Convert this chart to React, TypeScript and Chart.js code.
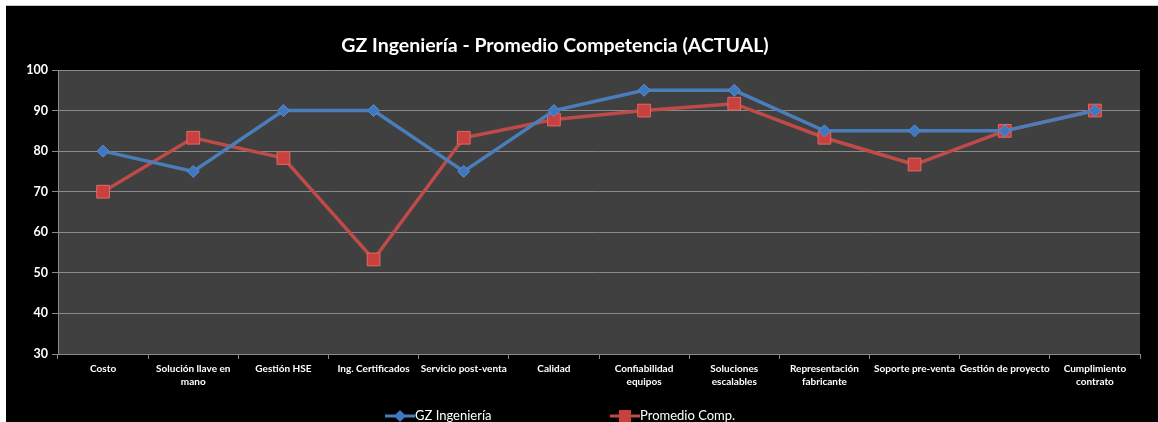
import React, { useEffect, useRef } from "react";
import { Chart, registerables } from "chart.js";

Chart.register(...registerables);

const categories: string[] = [
  "Costo",
  "Solución llave en\nmano",
  "Gestión HSE",
  "Ing. Certificados",
  "Servicio post-venta",
  "Calidad",
  "Confiabilidad\nequipos",
  "Soluciones\nescalables",
  "Representación\nfabricante",
  "Soporte pre-venta",
  "Gestión de proyecto",
  "Cumplimiento\ncontrato",
];
const gzIngenieria: number[] = [80, 75, 90, 90, 75, 90, 95, 95, 85, 85, 85, 90];
const promedioComp: number[] = [70, 83.3, 78.3, 53.3, 83.3, 87.8, 90, 91.7, 83.3, 76.7, 85, 90];
const seriesNames: string[] = ["GZ Ingeniería", "Promedio Comp."];
const titleText = "GZ Ingeniería - Promedio Competencia (ACTUAL)";
const yMin = 30;
const yMax = 100;
const yStep = 10;

const BLUE = "#4a7ebb";
const RED = "#be4b48";
const FONT = "Lato, 'Open Sans', sans-serif";

const plotBg = {
  id: "plotBg",
  beforeDraw(chart: any) {
    const { ctx, chartArea } = chart;
    ctx.save();
    ctx.fillStyle = "#404040";
    ctx.fillRect(chartArea.left, chartArea.top, chartArea.right - chartArea.left, chartArea.bottom - chartArea.top);
    ctx.restore();
  },
};

const customTitle = {
  id: "customTitle",
  afterDraw(chart: any, _args: any, opts: any) {
    const { ctx } = chart;
    ctx.save();
    ctx.font = `bold 19.5px ${FONT}`;
    ctx.fillStyle = "#ffffff";
    ctx.textAlign = "center";
    ctx.textBaseline = "middle";
    ctx.fillText(opts.text, opts.x, opts.y);
    ctx.restore();
  },
};

function drawMarker(ctx: CanvasRenderingContext2D, style: string, x: number, y: number, color: string) {
  ctx.save();
  ctx.fillStyle = color;
  ctx.beginPath();
  if (style === "rectRot") {
    const r = 6;
    ctx.moveTo(x, y - r);
    ctx.lineTo(x + r, y);
    ctx.lineTo(x, y + r);
    ctx.lineTo(x - r, y);
    ctx.closePath();
  } else {
    const s = 6;
    ctx.rect(x - s, y - s, 2 * s, 2 * s);
  }
  ctx.fill();
  ctx.restore();
}

const customLegend = {
  id: "customLegend",
  afterDraw(chart: any, _args: any, opts: any) {
    const { ctx } = chart;
    const xs: number[] = opts.xs;
    const y: number = opts.y;
    ctx.save();
    ctx.font = `13px ${FONT}`;
    ctx.textBaseline = "middle";
    ctx.textAlign = "left";
    chart.data.datasets.forEach((ds: any, i: number) => {
      const x0 = xs[i];
      ctx.strokeStyle = ds.borderColor;
      ctx.lineWidth = 3;
      ctx.beginPath();
      ctx.moveTo(x0, y);
      ctx.lineTo(x0 + 30, y);
      ctx.stroke();
      drawMarker(ctx, ds.pointStyle, x0 + 15, y, ds.pointBackgroundColor);
      ctx.fillStyle = "#ffffff";
      ctx.fillText(ds.label, x0 + 30, y);
    });
    ctx.restore();
  },
};

export default function App() {
  const ref = useRef<HTMLCanvasElement | null>(null);

  useEffect(() => {
    if (!ref.current) return;
    const chart = new Chart(ref.current, {
      type: "line",
      data: {
        labels: categories.map((c) => c.split("\n")),
        datasets: [
          {
            label: seriesNames[0],
            data: gzIngenieria,
            borderColor: BLUE,
            backgroundColor: BLUE,
            pointBackgroundColor: "#3f78c0",
            pointBorderColor: "#5b8fd0",
            pointBorderWidth: 1,
            pointStyle: "rectRot",
            pointRadius: 6,
            borderWidth: 3.5,
            tension: 0,
          },
          {
            label: seriesNames[1],
            data: promedioComp,
            borderColor: RED,
            backgroundColor: RED,
            pointBackgroundColor: "#c8413e",
            pointBorderColor: "#e06a66",
            pointBorderWidth: 1,
            pointStyle: "rect",
            pointRadius: 9,
            borderWidth: 3.5,
            tension: 0,
          },
        ],
      },
      options: {
        animation: false,
        responsive: false,
        maintainAspectRatio: false,
        layout: { padding: { left: 0, right: 18, top: 64, bottom: 0 } },
        plugins: {
          legend: { display: false },
          tooltip: { enabled: false },
          title: { display: false },
          customTitle: { text: titleText, x: 549, y: 40 },
          customLegend: { xs: [379, 604], y: 410 },
        } as any,
        scales: {
          x: {
            offset: true,
            afterFit: (s: any) => {
              s.height = 68;
            },
            grid: {
              offset: true,
              drawOnChartArea: false,
              drawTicks: true,
              tickLength: 5,
              color: "#8a8a8a",
            },
            border: { display: true, color: "#8a8a8a" },
            ticks: {
              color: "#ffffff",
              font: { family: FONT, size: 10, weight: "bold", lineHeight: 1.3 },
              padding: 3,
              maxRotation: 0,
              autoSkip: false,
            },
          },
          y: {
            min: yMin,
            max: yMax,
            afterFit: (s: any) => {
              s.width = 52;
            },
            grid: {
              color: "#8a8a8a",
              drawTicks: true,
              tickLength: 6,
            },
            border: { display: true, color: "#8a8a8a" },
            ticks: {
              stepSize: yStep,
              color: "#ffffff",
              font: { family: FONT, size: 12.5, weight: "bold" },
              padding: 4,
            },
          },
        },
      },
      plugins: [plotBg, customTitle, customLegend],
    });
    return () => chart.destroy();
  }, []);

  return (
    <div style={{ position: "fixed", left: 0, top: 0, width: 1158, height: 422, background: "#ffffff" }}>
      <div
        style={{
          position: "absolute",
          left: 6,
          top: 6,
          width: 1152,
          height: 416,
          background: "#000000",
          boxShadow: "0 -1px 0 #c8c8c8",
        }}
      >
        <canvas ref={ref} width={1152} height={416} style={{ display: "block" }} />
      </div>
    </div>
  );
}
